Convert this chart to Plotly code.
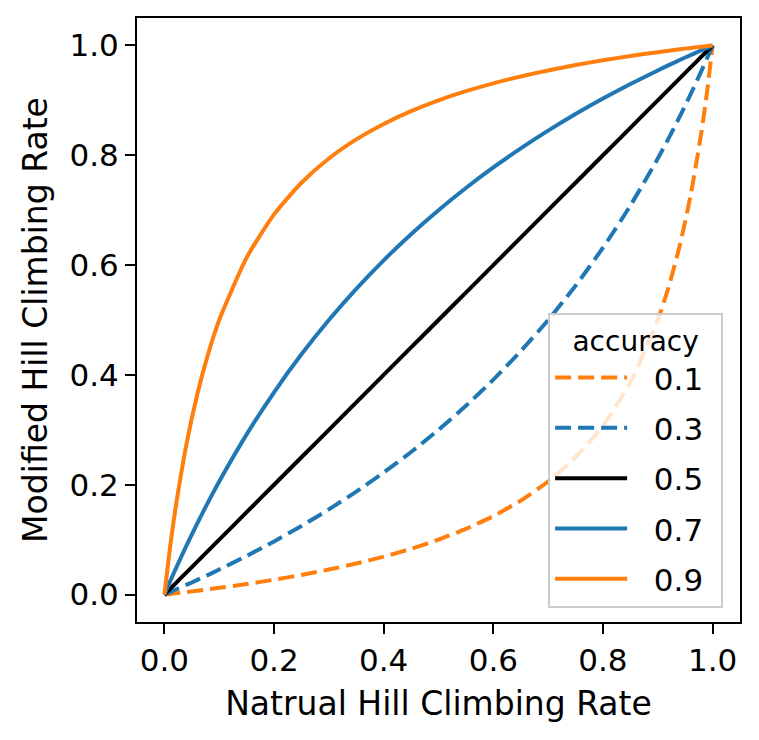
import plotly.graph_objects as go

# 读图估计的曲线采样点
x_vals = [0, 0.01, 0.02, 0.04, 0.06, 0.08, 0.1, 0.15, 0.2, 0.25, 0.3, 0.35, 0.4,
          0.45, 0.5, 0.55, 0.6, 0.65, 0.7, 0.75, 0.8, 0.85, 0.9, 0.92, 0.94,
          0.96, 0.98, 0.99, 1.0]

acc_01 = [0, 0.0011, 0.0023, 0.0046, 0.0070, 0.0096, 0.0122, 0.0192, 0.0270,
          0.0357, 0.0455, 0.0565, 0.0690, 0.0833, 0.1000, 0.1196, 0.1429,
          0.1711, 0.2059, 0.2500, 0.3077, 0.3864, 0.5000, 0.5610, 0.6351,
          0.7273, 0.8448, 0.9167, 1.0]
acc_03 = [0, 0.0043, 0.0087, 0.0175, 0.0266, 0.0359, 0.0455, 0.0703, 0.0968,
          0.1250, 0.1552, 0.1875, 0.2222, 0.2596, 0.3000, 0.3437, 0.3913,
          0.4432, 0.5000, 0.5625, 0.6316, 0.7083, 0.7941, 0.8313, 0.8704,
          0.9114, 0.9545, 0.9770, 1.0]
acc_05 = [0, 0.01, 0.02, 0.04, 0.06, 0.08, 0.1, 0.15, 0.2, 0.25, 0.3, 0.35, 0.4,
          0.45, 0.5, 0.55, 0.6, 0.65, 0.7, 0.75, 0.8, 0.85, 0.9, 0.92, 0.94,
          0.96, 0.98, 0.99, 1.0]
acc_07 = [0, 0.0230, 0.0455, 0.0886, 0.1296, 0.1687, 0.2059, 0.2917, 0.3684,
          0.4375, 0.5000, 0.5568, 0.6087, 0.6563, 0.7000, 0.7404, 0.7778,
          0.8125, 0.8448, 0.8750, 0.9032, 0.9297, 0.9545, 0.9641, 0.9734,
          0.9825, 0.9913, 0.9957, 1.0]
acc_09 = [0, 0.0833, 0.1552, 0.2727, 0.3649, 0.4390, 0.5000, 0.6136, 0.6923,
          0.7500, 0.7941, 0.8289, 0.8571, 0.8804, 0.9000, 0.9167, 0.9310,
          0.9435, 0.9545, 0.9643, 0.9730, 0.9808, 0.9878, 0.9904, 0.9930,
          0.9954, 0.9977, 0.9989, 1.0]

labels = ["0.1", "0.3", "0.5", "0.7", "0.9"]
series = [acc_01, acc_03, acc_05, acc_07, acc_09]

ORANGE = "#ff7f0e"
BLUE = "#1f77b4"
styles = [
    (ORANGE, "16px,7px"),
    (BLUE, "16px,7px"),
    ("black", "solid"),
    (BLUE, "solid"),
    (ORANGE, "solid"),
]

FONT = "DejaVu Sans"
LEAD = "\u2002\u2009"   # 图例线段与文字之间的留白
TAIL = "\u2009\u2009"   # 右侧留白，把图例框撑宽

fig = go.Figure()
for i, (name, ys) in enumerate(zip(labels, series)):
    color, dash = styles[i]
    fig.add_trace(
        go.Scatter(
            x=x_vals,
            y=ys,
            mode="lines",
            name=LEAD + name + TAIL,
            legendgroup=f"g{i}",
            line=dict(color=color, width=4, dash=dash, shape="spline", smoothing=0.6),
        )
    )

axis_common = dict(
    range=[-0.05, 1.05],
    tickvals=[0, 0.2, 0.4, 0.6, 0.8, 1.0],
    ticktext=["0.0", "0.2", "0.4", "0.6", "0.8", "1.0"],
    ticks="outside",
    ticklen=10,
    tickwidth=2,
    tickcolor="black",
    showline=True,
    linecolor="black",
    linewidth=2,
    mirror=True,
    showgrid=False,
    zeroline=False,
    automargin=False,
    tickfont=dict(family=FONT, size=31, color="black"),
)

fig.update_xaxes(
    **axis_common,
    title=dict(text="Natrual Hill Climbing Rate",
               font=dict(family=FONT, size=33, color="black"), standoff=15),
)
fig.update_yaxes(
    **axis_common,
    title=dict(text="Modified Hill Climbing Rate",
               font=dict(family=FONT, size=33, color="black"), standoff=12),
)

fig.update_layout(
    width=759,
    height=740,
    margin=dict(l=137, r=19, t=18, b=118),
    paper_bgcolor="white",
    plot_bgcolor="white",
    font=dict(family=FONT, color="black"),
    legend=dict(
        title=dict(text="accuracy", font=dict(family=FONT, size=28), side="top center"),
        font=dict(family=FONT, size=31),
        x=0.972,
        y=0.024,
        xanchor="right",
        yanchor="bottom",
        bgcolor="rgba(255,255,255,0.8)",
        bordercolor="#cccccc",
        borderwidth=2,
        tracegroupgap=7,
        itemwidth=72,
    ),
)

fig.write_html(
    "out.html",
    config={"displayModeBar": False},
    post_script="document.body.style.margin='0';",
)
